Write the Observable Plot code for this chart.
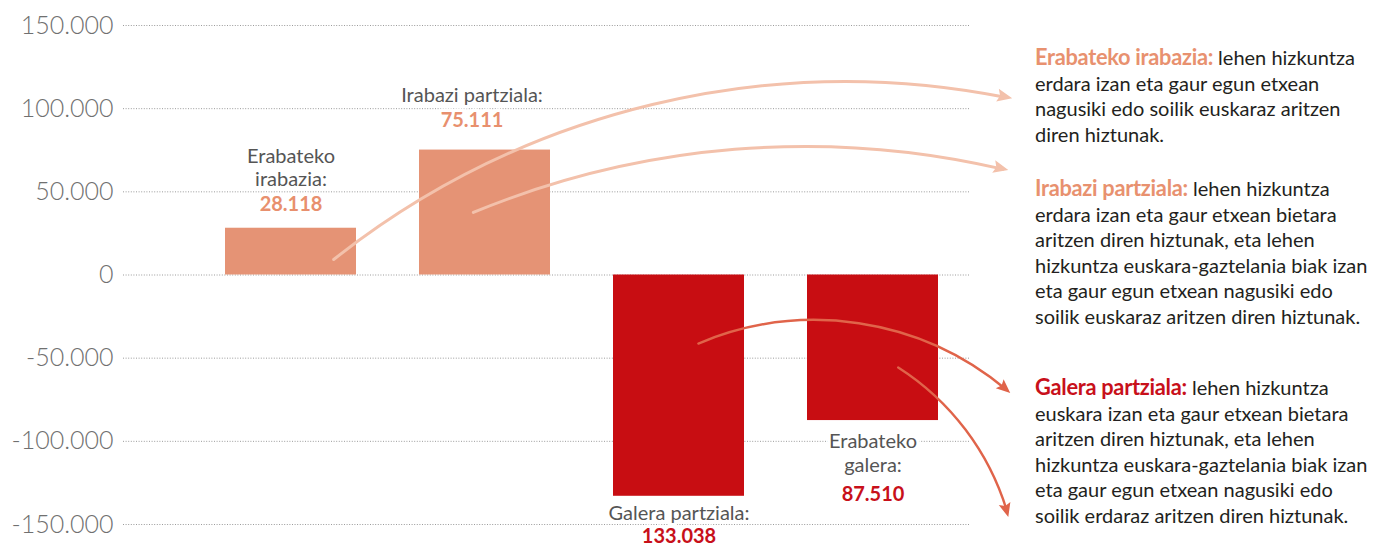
<!DOCTYPE html>
<html>
<head>
<meta charset="utf-8">
<script src="https://cdn.jsdelivr.net/npm/d3@7"></script>
<script src="https://cdn.jsdelivr.net/npm/@observablehq/plot@0.6"></script>
<style>
  html, body { margin: 0; padding: 0; background: #fff; }
  #wrap { position: relative; width: 1378px; height: 547px; overflow: hidden; }
  #chart { position: absolute; left: 0; top: 0; }
  #chart g[aria-label="y-axis tick label"] text { font-weight: 300; }
  .legend { position: absolute; left: 1035px; font-family: Lato, "Open Sans", sans-serif; font-size: 20px; line-height: 25.5px; color: #231f20; white-space: nowrap; }
  .legend b { display: inline-block; transform-origin: 0 50%; font-family: Lato, sans-serif; font-weight: 700; font-size: 22.5px; letter-spacing: -0.3px; }
  .gain { color: #E8916F; }
  .loss { color: #C8101A; }
</style>
</head>
<body>
<div id="wrap">
  <div id="chart"></div>
  <div class="legend" style="top:44px">
    <b class="gain">Erabateko irabazia:</b> lehen hizkuntza<br>
    erdara izan eta gaur egun etxean<br>
    nagusiki edo soilik euskaraz aritzen<br>
    diren hiztunak.
  </div>
  <div class="legend" style="top:175px">
    <b class="gain">Irabazi partziala:</b> lehen hizkuntza<br>
    erdara izan eta gaur etxean bietara<br>
    aritzen diren hiztunak, eta lehen<br>
    hizkuntza euskara-gaztelania biak izan<br>
    eta gaur egun etxean nagusiki edo<br>
    soilik euskaraz aritzen diren hiztunak.
  </div>
  <div class="legend" style="top:374px">
    <b class="loss">Galera partziala:</b> lehen hizkuntza<br>
    euskara izan eta gaur etxean bietara<br>
    aritzen diren hiztunak, eta lehen<br>
    hizkuntza euskara-gaztelania biak izan<br>
    eta gaur egun etxean nagusiki edo<br>
    soilik erdaraz aritzen diren hiztunak.
  </div>
</div>
<script>
// ---- Data ----
const categories = ["Erabateko irabazia", "Irabazi partziala", "Galera partziala", "Erabateko galera"];
const labelNames = ["Erabateko\nirabazia:", "Irabazi partziala:", "Galera partziala:", "Erabateko\ngalera:"];
const values = [28118, 75111, -133038, -87510];
const yTicks = [-150000, -100000, -50000, 0, 50000, 100000, 150000];

// Annotation arrows (data units: x = category index, y = value)
const arrowStartX = [0.22, 0.94, 2.10, 3.13];
const arrowStartY = [9300, 37600, -41200, -55600];
const arrowEndX = [3.72, 3.70, 3.71, 3.70];
const arrowEndY = [106000, 62800, -71200, -145800];

// ---- Styles / layout ----
const gainColor = "#E59375";
const lossColor = "#C80D12";
const gainText = "#E8906E";
const lossText = "#C8101A";
const arrowColors = ["#F3C1AB", "#F3C1AB", "#E0644A", "#E0644A"];
const arrowWidths = [3, 3, 2.4, 2.4];
const arrowBends = [25, 18, 32, 21];
const nameDy = [-61, -56, 16, 32];
const valueDy = [-24, -29, 40, 74];
const labelDx = [0, -13, 0, 0];
const halfBar = 0.3376;

const bars = categories.map((c, i) => ({i, category: c, value: values[i], name: labelNames[i]}));
const arrows = arrowStartX.map((x, k) => ({
  x1: x, y1: arrowStartY[k], x2: arrowEndX[k], y2: arrowEndY[k],
  bend: arrowBends[k], color: arrowColors[k], width: arrowWidths[k]
}));

const locale = d3.formatLocale({decimal: ",", thousands: ".", grouping: [3], currency: ["", "€"], minus: "-"});
const fmtTick = locale.format(",d");
const fmtVal = d => locale.format(",d")(Math.abs(d));

// custom mark: filled arrowheads at the end of each bent arrow
function arrowHeads(index, scales) {
  const g = d3.create("svg:g").attr("aria-label", "arrowheads");
  for (const a of arrows) {
    const x1 = scales.x(a.x1), y1 = scales.y(a.y1), x2 = scales.x(a.x2), y2 = scales.y(a.y2);
    const ang = Math.atan2(y2 - y1, x2 - x1) + a.bend * Math.PI / 180;
    const len = a.width > 2.6 ? 15 : 14, hw = a.width > 2.6 ? 6.5 : 6;
    const bx = x2 - len * Math.cos(ang), by = y2 - len * Math.sin(ang);
    const nx = -Math.sin(ang), ny = Math.cos(ang);
    g.append("path")
      .attr("d", `M${x2},${y2}L${bx + hw * nx},${by + hw * ny}L${bx + len*0.18*Math.cos(ang)},${by + len*0.18*Math.sin(ang)}L${bx - hw * nx},${by - hw * ny}Z`)
      .attr("fill", a.color);
  }
  return g.node();
}

const marks = [
  Plot.ruleY(yTicks, {stroke: "#9b9b9b", strokeWidth: 1, strokeDasharray: "1,1.6"}),
  Plot.axisY(yTicks, {tickSize: 0, tickPadding: 10, tickFormat: fmtTick, fontSize: 25, fill: "#707070"}),
  Plot.rectY(bars, {
    x1: d => d.i - halfBar, x2: d => d.i + halfBar, y1: 0, y2: "value",
    fill: d => d.value >= 0 ? gainColor : lossColor
  })
];
bars.forEach((b, k) => {
  marks.push(Plot.text([b], {
    x: "i", y: "value", text: "name", dx: labelDx[k], dy: nameDy[k],
    lineAnchor: "middle", lineHeight: 1.17, fontSize: 20, fill: "#555555",
    stroke: "white", strokeWidth: 7
  }));
  marks.push(Plot.text([b], {
    x: "i", y: "value", text: d => fmtVal(d.value), dx: labelDx[k], dy: valueDy[k],
    lineAnchor: "middle", fontSize: 20, fontWeight: "bold",
    fill: b.value >= 0 ? gainText : lossText, stroke: "white", strokeWidth: 7
  }));
});
arrows.forEach(a => {
  marks.push(Plot.arrow([a], {
    x1: "x1", y1: "y1", x2: "x2", y2: "y2", bend: a.bend,
    stroke: a.color, strokeWidth: a.width, headLength: 0, insetEnd: 6
  }));
});
marks.push(arrowHeads);

const chart = Plot.plot({
  width: 1378,
  height: 547,
  marginLeft: 123,
  marginRight: 408,
  marginTop: 25,
  marginBottom: 23,
  style: {fontFamily: "Lato, 'Open Sans', sans-serif", background: "white"},
  x: {domain: [0, 3], range: [290.5, 872.5], axis: null},
  y: {domain: [-150000, 150000], axis: null},
  marks
});
document.getElementById("chart").appendChild(chart);

// condense the bold legend headings (the reference uses a condensed bold face)
const heads = document.querySelectorAll(".legend b");
const w0 = heads[0].getBoundingClientRect().width;
const s = 178 / w0;
heads.forEach(el => {
  const w = el.getBoundingClientRect().width;
  el.style.transform = `scaleX(${s})`;
  el.style.marginRight = `${-(w * (1 - s))}px`;
});
</script>
</body>
</html>
